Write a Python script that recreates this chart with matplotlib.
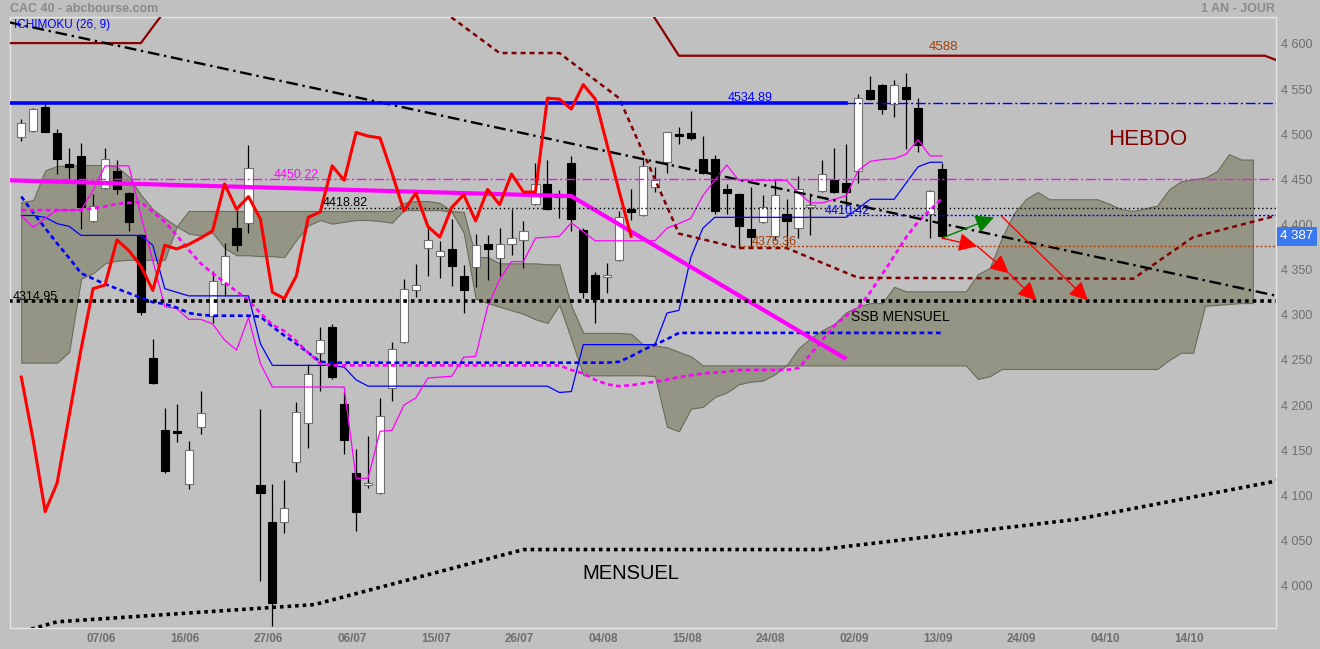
import matplotlib
matplotlib.use("Agg")
import matplotlib.pyplot as plt
import numpy as np

plt.rcParams['font.family'] = ['Liberation Sans', 'DejaVu Sans']

BG = '#c0c0c0'

# daily candles, index 0 = first session on the chart
opens = [4497, 4504, 4530, 4501, 4467, 4476, 4404, 4441, 4459, 4435,
         4388, 4252, 4172, 4169, 4113, 4176, 4299, 4334, 4396, 4402,
         4111, 4070, 4071, 4137, 4180, 4258, 4287, 4201, 4125, 4112,
         4103, 4219, 4270, 4327, 4374, 4365, 4373, 4343, 4353, 4379,
         4363, 4379, 4383, 4423, 4445, 4432, 4468, 4394, 4344, 4342,
         4361, 4417, 4411, 4442, 4469, 4499, 4501, 4473, 4473, 4439,
         4434, 4395, 4403, 4387, 4412, 4396, 4419, 4437, 4449, 4446,
         4459, 4549, 4555, 4534, 4552, 4529, 4412, 4461]
highs = [4517, 4529, 4534, 4506, 4485, 4490, 4434, 4485, 4472, 4436,
         4389, 4273, 4197, 4201, 4160, 4216, 4349, 4380, 4416, 4488,
         4196, 4113, 4117, 4203, 4246, 4287, 4290, 4214, 4151, 4166,
         4208, 4270, 4340, 4356, 4397, 4382, 4406, 4355, 4390, 4388,
         4396, 4417, 4404, 4468, 4472, 4438, 4476, 4396, 4347, 4357,
         4415, 4439, 4472, 4464, 4503, 4508, 4526, 4498, 4477, 4445,
         4435, 4442, 4433, 4451, 4428, 4454, 4435, 4472, 4485, 4489,
         4545, 4565, 4556, 4560, 4568, 4540, 4438, 4468]
lows = [4492, 4502, 4502, 4456, 4449, 4395, 4403, 4439, 4434, 4393,
        4300, 4223, 4125, 4159, 4107, 4168, 4291, 4321, 4371, 4391,
        4005, 3955, 4058, 4126, 4153, 4216, 4229, 4146, 4060, 4108,
        4101, 4205, 4269, 4320, 4343, 4341, 4332, 4302, 4331, 4339,
        4343, 4366, 4352, 4422, 4416, 4407, 4393, 4319, 4291, 4324,
        4360, 4405, 4409, 4436, 4457, 4489, 4494, 4456, 4412, 4412,
        4374, 4375, 4402, 4383, 4376, 4385, 4388, 4436, 4435, 4420,
        4446, 4538, 4522, 4519, 4484, 4480, 4385, 4386]
closes = [4512, 4528, 4503, 4473, 4464, 4419, 4421, 4473, 4439, 4403,
          4303, 4224, 4127, 4169, 4150, 4191, 4338, 4365, 4377, 4463,
          4103, 3981, 4086, 4192, 4235, 4272, 4231, 4161, 4082, 4114,
          4188, 4262, 4329, 4333, 4383, 4371, 4354, 4327, 4377, 4373,
          4378, 4385, 4393, 4445, 4417, 4431, 4406, 4325, 4318, 4343,
          4408, 4414, 4465, 4449, 4502, 4498, 4496, 4457, 4415, 4435,
          4398, 4386, 4419, 4433, 4404, 4439, 4422, 4456, 4436, 4436,
          4540, 4539, 4528, 4555, 4539, 4488, 4437, 4387]

# ichimoku lines
kijun = [4410, 4410, 4408, 4401, 4398, 4388, 4388, 4388, 4388, 4388,
         4388, 4377, 4329, 4325, 4321, 4321, 4321, 4321, 4321, 4321,
         4268, 4244, 4244, 4244, 4244, 4244, 4244, 4242, 4228, 4221,
         4221, 4221, 4221, 4221, 4221, 4221, 4221, 4221, 4221, 4221,
         4221, 4221, 4221, 4221, 4221, 4214, 4215, 4267, 4267, 4267,
         4267, 4267, 4267, 4267, 4302, 4305, 4364, 4396, 4408, 4408,
         4408, 4408, 4408, 4408, 4408, 4408, 4408, 4408, 4408, 4408,
         4418, 4428, 4428, 4428, 4446, 4464, 4469, 4469]
tenkan = [4410, 4397, 4407, 4416, 4416, 4416, 4438, 4465, 4465, 4465,
          4410, 4360, 4309, 4307, 4295, 4295, 4290, 4272, 4261, 4297,
          4246, 4220, 4220, 4220, 4220, 4220, 4220, 4220, 4119, 4119,
          4171, 4172, 4200, 4208, 4230, 4231, 4232, 4253, 4254, 4309,
          4339, 4359, 4359, 4385, 4386, 4387, 4402, 4392, 4382, 4382,
          4382, 4382, 4382, 4382, 4396, 4401, 4407, 4432, 4449, 4466,
          4449, 4449, 4449, 4449, 4449, 4435, 4424, 4424, 4428, 4432,
          4460, 4470, 4472, 4473, 4478, 4494, 4476, 4476]
kijun_w = [4431, 4413, 4396, 4379, 4363, 4346, 4340, 4334, 4329, 4324,
           4319, 4314, 4312, 4308, 4302, 4300, 4299, 4299, 4299, 4299,
           4298, 4287, 4277, 4268, 4258, 4248, 4247, 4247, 4247, 4247,
           4247, 4247, 4247, 4247, 4247, 4247, 4247, 4247, 4247, 4247,
           4247, 4247, 4247, 4247, 4247, 4247, 4247, 4247, 4247, 4247,
           4248, 4254, 4261, 4267, 4273, 4280, 4280, 4280, 4280, 4280,
           4280, 4280, 4280, 4280, 4280, 4280, 4280, 4280, 4280, 4280,
           4280, 4280, 4280, 4280, 4280, 4280, 4280, 4280]
tenkan_w = [4416, 4416, 4416, 4416, 4416, 4416, 4418, 4420, 4423, 4424,
            4425, 4414, 4403, 4388, 4372, 4357, 4346, 4336, 4326, 4316,
            4302, 4289, 4282, 4271, 4258, 4246, 4244, 4244, 4244, 4244,
            4244, 4244, 4244, 4244, 4244, 4244, 4244, 4244, 4244, 4244,
            4244, 4244, 4244, 4244, 4244, 4244, 4239, 4235, 4228, 4223,
            4221, 4222, 4224, 4226, 4228, 4231, 4233, 4235, 4236, 4237,
            4239, 4239, 4239, 4239, 4239, 4241, 4256, 4272, 4288, 4299,
            4308, 4325, 4345, 4365, 4386, 4403, 4416, 4429]
cloud_top = [4425, 4427, 4460, 4465, 4465, 4466, 4466, 4466, 4464, 4453,
             4433, 4417, 4407, 4398, 4415, 4415, 4415, 4415, 4415, 4415,
             4415, 4415, 4415, 4415, 4415, 4415, 4415, 4415, 4415, 4415,
             4415, 4415, 4424, 4426, 4426, 4424, 4415, 4414, 4364, 4364,
             4357, 4357, 4357, 4357, 4356, 4356, 4310, 4280, 4280, 4280,
             4280, 4279, 4267, 4266, 4264, 4259, 4254, 4244, 4244, 4244,
             4244, 4244, 4244, 4244, 4244, 4263, 4274, 4283, 4290, 4303,
             4309, 4313, 4313, 4331, 4326, 4326, 4326, 4326, 4326, 4326,
             4345, 4352, 4385, 4412, 4428, 4436, 4428, 4428, 4428, 4428,
             4428, 4423, 4417, 4415, 4418, 4421, 4439, 4448, 4450, 4452,
             4459, 4478, 4472, 4472]
cloud_bot = [4247, 4247, 4247, 4247, 4259, 4340, 4346, 4357, 4360, 4361,
             4361, 4361, 4361, 4398, 4390, 4388, 4391, 4374, 4366, 4366,
             4365, 4365, 4364, 4383, 4399, 4405, 4401, 4403, 4405, 4405,
             4404, 4402, 4416, 4416, 4416, 4416, 4414, 4391, 4318, 4313,
             4309, 4305, 4301, 4295, 4291, 4311, 4273, 4233, 4233, 4233,
             4233, 4233, 4233, 4232, 4176, 4171, 4196, 4198, 4209, 4214,
             4223, 4226, 4227, 4234, 4244, 4244, 4244, 4244, 4244, 4244,
             4244, 4244, 4244, 4244, 4244, 4244, 4244, 4244, 4244, 4244,
             4229, 4232, 4240, 4240, 4240, 4240, 4240, 4240, 4240, 4240,
             4240, 4240, 4240, 4240, 4240, 4240, 4250, 4258, 4258, 4310,
             4311, 4312, 4313, 4313]
chikou_shift = 26

# weekly / monthly lines, given as (index, price) vertices
hebdo_idx = [-1, 10, 15, 50, 55, 104, 105]
hebdo = [4601, 4601, 4690, 4690, 4587, 4587, 4582]
hebdo_d_idx = [30, 35, 40, 45, 50, 55, 60, 64, 70, 93, 98, 105]
hebdo_d = [4720, 4639, 4590, 4590, 4540, 4390, 4374, 4374, 4341, 4340, 4386, 4410]
mensuel_idx = [-1, 3, 24.5, 42, 66.8, 88.3, 105]
mensuel = [3945, 3960, 3979, 4040, 4040, 4073.5, 4116]
trend_idx = [-1, 105]
trend = [4624, 4321]
pink_idx = [-1, 46, 69]
pink = [4449, 4431.5, 4251]

# horizontal levels
lvl_res = 4534.89
lvl_pink = 4450.22
lvl_black = 4418.82
lvl_kijun = 4410.42
lvl_brown = 4376.36
lvl_ssb = 4314.95
lvl_hebdo = 4588
last_price = 4387

# projection arrows: x0, y0, x1, y1
green_arrows = [(77, 4385, 81.35, 4408)]
red_arrows = [(77, 4385, 79.95, 4376), (79.95, 4376, 82.6, 4346),
              (82.6, 4346, 84.9, 4316), (82.0, 4409, 89.2, 4316)]

y_ticks = [4000, 4050, 4100, 4150, 4200, 4250, 4300, 4350, 4400, 4450, 4500, 4550, 4600]
date_pos = [6.67, 13.67, 20.67, 27.67, 34.67, 41.67, 48.67, 55.67, 62.67, 69.67, 76.67, 83.67, 90.67, 97.67]
date_labels = ['07/06', '16/06', '27/06', '06/07', '15/07', '26/07', '04/08',
               '15/08', '24/08', '02/09', '13/09', '24/09', '04/10', '14/10']

if __name__ == '__main__':
    fig = plt.figure(figsize=(13.2, 6.49), dpi=100, facecolor=BG)
    ax = fig.add_axes([10 / 1320, 1 - 628 / 649, 1265.7 / 1320, 611 / 649])
    ax.set_facecolor(BG)

    x = np.arange(len(closes))
    o = np.array(opens, float)
    h = np.array(highs, float)
    lo = np.array(lows, float)
    c = np.array(closes, float)

    # cloud
    xc = np.arange(len(cloud_top))
    ax.fill_between(xc, cloud_bot, cloud_top, facecolor='#959585',
                    edgecolor='#6b6b5a', lw=0.8, zorder=2)

    # candles
    up = c > o
    body_lo = np.minimum(o, c)
    body_h = np.maximum(np.abs(c - o), 1.8)
    ax.vlines(x, lo, h, color='black', lw=0.9, zorder=4)
    ax.bar(x[up], body_h[up], bottom=body_lo[up], width=0.68, color='white',
           edgecolor='#707070', lw=0.8, zorder=5)
    ax.bar(x[~up], body_h[~up], bottom=body_lo[~up], width=0.68, color='black',
           edgecolor='black', lw=0.8, zorder=5)

    # ichimoku lines
    ax.plot(x, kijun, color='#0000ff', lw=0.9, zorder=6)
    ax.plot(x, tenkan, color='#ff00ff', lw=0.9, zorder=6)
    ax.plot(x, kijun_w, color='#0000ff', lw=1.9, linestyle=(0, (1.8, 1.3)), zorder=6)
    ax.plot(x, tenkan_w, color='#ff00ff', lw=1.9, linestyle=(0, (1.8, 1.3)), zorder=6)
    ax.plot(x[:-chikou_shift], c[chikou_shift:], color='#ff0000', lw=2.2, zorder=7)

    # weekly / monthly
    ax.plot(hebdo_idx, hebdo, color='#8b0000', lw=1.6, zorder=6)
    ax.plot(hebdo_d_idx, hebdo_d, color='#800000', lw=1.8, linestyle=(0, (2, 1.6)), zorder=6)
    ax.plot(mensuel_idx, mensuel, color='black', lw=2.6, linestyle=(0, (1, 1.1)), zorder=6)
    ax.plot(trend_idx, trend, color='black', lw=1.7, linestyle=(0, (5, 2, 1, 2)), zorder=6)
    ax.plot(pink_idx, pink, color='#ff00ff', lw=3, solid_capstyle='butt', zorder=6)

    # levels
    ax.plot([-1, 69], [lvl_res, lvl_res], color='#0000ff', lw=2.6, zorder=6)
    ax.plot([69, 105], [lvl_res, lvl_res], color='#0000ff', lw=1, linestyle=(0, (7, 2, 1.5, 2)), zorder=6)
    ax.plot([-1, 105], [lvl_pink, lvl_pink], color='#e020e0', lw=1, linestyle=(0, (7, 2, 1.5, 2)), zorder=6)
    ax.plot([25, 105], [lvl_black, lvl_black], color='black', lw=1, linestyle=(0, (1, 2)), zorder=6)
    ax.plot([69, 105], [lvl_kijun, lvl_kijun], color='#0000ff', lw=1, linestyle=(0, (1.5, 1.5)), zorder=6)
    ax.plot([60, 105], [lvl_brown, lvl_brown], color='#b04000', lw=1, linestyle=(0, (1.5, 1.5)), zorder=6)
    ax.plot([-1, 105], [lvl_ssb, lvl_ssb], color='black', lw=2.6, linestyle=(0, (1, 1.1)), zorder=6)

    # arrows
    for x0, y0, x1, y1 in green_arrows:
        ax.annotate('', xy=(x1, y1), xytext=(x0, y0), zorder=8,
                    arrowprops=dict(arrowstyle='-|>', color='#008000', lw=1,
                                    mutation_scale=28, shrinkA=0, shrinkB=0))
    for x0, y0, x1, y1 in red_arrows:
        ax.annotate('', xy=(x1, y1), xytext=(x0, y0), zorder=8,
                    arrowprops=dict(arrowstyle='-|>', color='#ff0000', lw=1,
                                    mutation_scale=28, shrinkA=0, shrinkB=0))

    # labels on the chart
    ax.text(61.0, 4540, '4534.89', color='#0000ff', fontsize=9, ha='center', va='center', zorder=9)
    ax.text(23.0, 4455, '4450.22', color='#ff00ff', fontsize=9, ha='center', va='center', zorder=9)
    ax.text(27.1, 4424, '4418.82', color='black', fontsize=9, ha='center', va='center', zorder=9)
    ax.text(69.1, 4415, '4410.42', color='#0000ff', fontsize=9, ha='center', va='center', zorder=9)
    ax.text(63.0, 4381, '4376.36', color='#a0400a', fontsize=9, ha='center', va='center', zorder=9)
    ax.text(1.15, 4320, '4314.95', color='black', fontsize=9, ha='center', va='center', zorder=9)
    ax.text(77.1, 4597, '4588', color='#a0400a', fontsize=9.5, ha='center', va='center', zorder=9)
    ax.text(73.5, 4298, 'SSB MENSUEL', color='black', fontsize=10, ha='center', va='center', zorder=9)
    ax.text(94.2, 4494, 'HEBDO', color='#800000', fontsize=16, ha='center', va='center', zorder=9)
    ax.text(51.0, 4013, 'MENSUEL', color='black', fontsize=14.5, ha='center', va='center', zorder=9)
    ax.text(1.0035, last_price, '4 387', transform=ax.get_yaxis_transform(),
            color='white', fontsize=9.5, ha='left', va='center', zorder=9, clip_on=False,
            bbox=dict(boxstyle='square,pad=0.25', facecolor='#3a78f2', edgecolor='none'))

    fig.text(10 / 1320, 1 - 9 / 649, 'CAC 40 - abcbourse.com', color='#8a8a8a',
             fontsize=9, fontweight='bold', ha='left', va='center')
    fig.text(1275 / 1320, 1 - 9 / 649, '1 AN - JOUR', color='#8a8a8a',
             fontsize=9, fontweight='bold', ha='right', va='center')
    fig.text(14 / 1320, 1 - 25 / 649, 'ICHIMOKU (26, 9)', color='#0000ff',
             fontsize=8.5, ha='left', va='center')

    # axes
    ax.set_xlim(-0.945, 104.91)
    ax.set_ylim(3953.1, 4629.9)
    ax.yaxis.tick_right()
    ax.set_yticks(y_ticks)
    ax.set_yticklabels([f"{v // 1000} {v % 1000:03d}" for v in y_ticks])
    ax.set_xticks(date_pos)
    ax.set_xticklabels(date_labels, fontweight='bold')
    ax.tick_params(axis='y', length=0, pad=3.8, labelcolor='#6e6e6e', labelsize=9)
    ax.tick_params(axis='x', length=0, pad=3.5, labelcolor='#6e6e6e', labelsize=8.5)
    for s in ax.spines.values():
        s.set_color('#e4e4e4')
        s.set_linewidth(1)

    plt.savefig('out.png', dpi=100, facecolor=BG)
